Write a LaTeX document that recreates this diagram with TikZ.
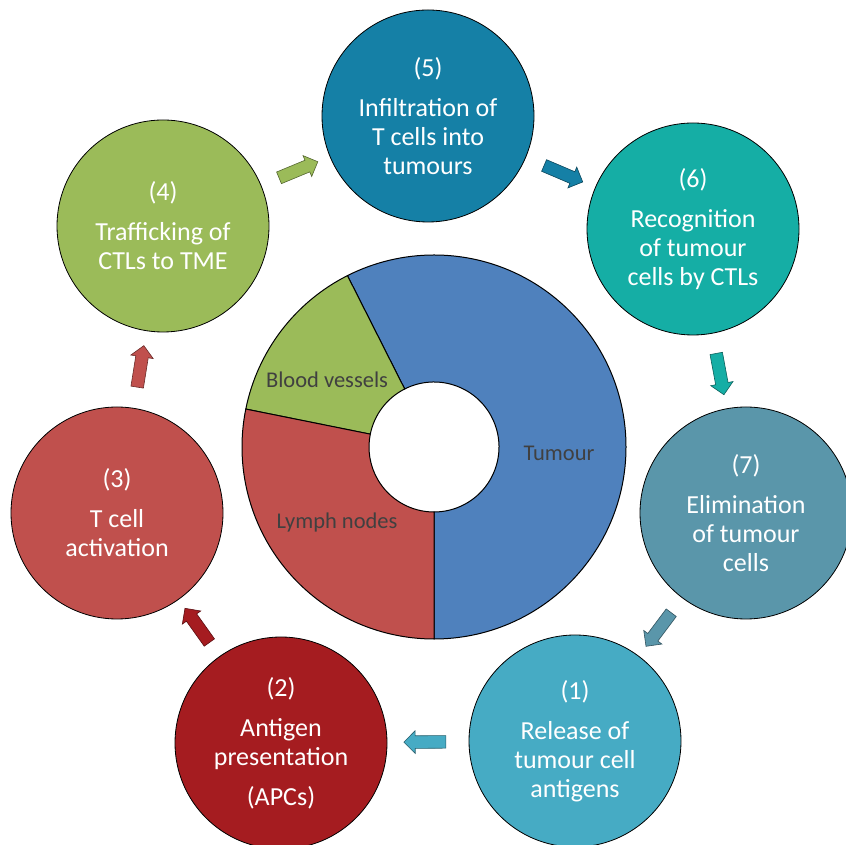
\documentclass[tikz,border=0pt]{standalone}
\usepackage{fontspec}
\setmainfont{Carlito}
\usetikzlibrary{shapes.arrows}

\definecolor{cone}{RGB}{70,171,196}
\definecolor{ctwo}{RGB}{165,28,32}
\definecolor{cthree}{RGB}{192,80,77}
\definecolor{cfour}{RGB}{155,187,89}
\definecolor{cfive}{RGB}{21,128,166}
\definecolor{csix}{RGB}{21,174,165}
\definecolor{cseven}{RGB}{90,150,170}
\definecolor{ctumour}{RGB}{79,129,189}
\definecolor{clabel}{RGB}{64,64,64}

\tikzset{
  stage/.style={circle, draw=black, line width=0.8pt, minimum size=212pt, inner sep=0pt,
    text=white, align=center, font=\fontsize{26}{29}\selectfont},
  blockarrow/.style={single arrow, draw=#1!55!black, fill=#1, line width=0.6pt,
    single arrow head extend=5pt, single arrow tip angle=90, minimum height=42pt,
    inner xsep=0pt, inner ysep=6pt, sloped, allow upside down},
  ring/.style={draw=black, line width=1pt},
  ringlabel/.style={text=clabel, font=\fontsize{22.5}{26}\selectfont}
}

\begin{document}
\begin{tikzpicture}[x=1pt, y=1pt]
            \useasboundingbox (0,0) rectangle (845,845);

            % donut in the middle
            \begin{scope}[shift={(434,398)}]
                \filldraw[ring, fill=ctumour] (-90:192) arc[start angle=-90, end angle=116.8, radius=192]
                    -- (116.8:65) arc[start angle=116.8, end angle=-90, radius=65] -- cycle;
                \filldraw[ring, fill=cfour] (116.8:192) arc[start angle=116.8, end angle=168.6, radius=192]
                    -- (168.6:65) arc[start angle=168.6, end angle=116.8, radius=65] -- cycle;
                \filldraw[ring, fill=cthree] (168.6:192) arc[start angle=168.6, end angle=270, radius=192]
                    -- (270:65) arc[start angle=270, end angle=168.6, radius=65] -- cycle;
            \end{scope}

            \node[ringlabel] (blood) at (327,465) {Blood vessels};
            \node[ringlabel] (lymph) at (337,322) {Lymph nodes};
            \node[ringlabel] (tumour) at (559,392) {Tumour};

            % the seven steps
            \node[stage, fill=cone] (s1) at (575,104) {(1)\\[11pt]Release of\\tumour cell\\antigens};
            \node[stage, fill=ctwo] (s2) at (281,102) {(2)\\[11pt]Antigen\\presentation\\[11pt](APCs)};
            \node[stage, fill=cthree] (s3) at (117,332) {(3)\\[11pt]T cell\\activation};
            \node[stage, fill=cfour] (s4) at (163,619) {(4)\\[11pt]Trafficking of\\CTLs to TME};
            \node[stage, fill=cfive] (s5) at (428,729) {(5)\\[11pt]Infiltration of\\T cells into\\tumours};
            \node[stage, fill=csix] (s6) at (693,616) {(6)\\[11pt]Recognition\\of tumour\\cells by CTLs};
            \node[stage, fill=cseven] (s7) at (746,332) {(7)\\[11pt]Elimination\\of tumour\\cells};

            % arrows between the steps
            \foreach \a/\b/\c in {s4/s5/cfour, s5/s6/cfive, s6/s7/csix, s7/s1/cseven,
                                  s1/s2/cone, s2/s3/ctwo, s3/s4/cthree}
                \path (\a) -- node[blockarrow=\c] {} (\b);

\end{tikzpicture}
\end{document}
